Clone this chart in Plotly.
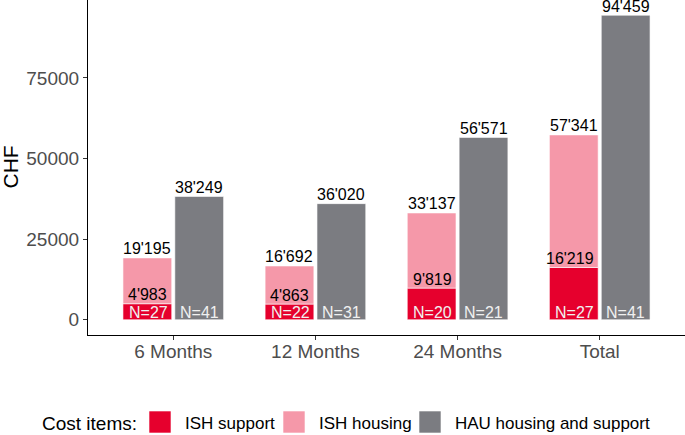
import plotly.graph_objects as go

categories = ["6 Months", "12 Months", "24 Months", "Total"]
ish_support = [4983, 4863, 9819, 16219]
ish_total = [19195, 16692, 33137, 57341]
hau_total = [38249, 36020, 56571, 94459]
n_ish = [27, 22, 20, 27]
n_hau = [41, 31, 21, 41]
legend_names = ["ISH support", "ISH housing", "HAU housing and support"]

RED = "#E6002D"
PINK = "#F598A9"
GRAY = "#7B7C81"
FONT = "Liberation Sans, Arial, sans-serif"
COLORS = [RED, PINK, GRAY]

W, H = 685, 435
ML, MR, MT, MB = 88, 0, 0, 100
PW, PH = W - ML - MR, H - MT - MB


def fmt(v):
    return f"{v:,}".replace(",", "'")


def px_x(p):
    return (p - ML) / PW


def px_y(p):
    return (H - MB - p) / PH


ish_housing = [t - s for t, s in zip(ish_total, ish_support)]
bar_line = dict(color="white", width=0.6)

fig = go.Figure()
fig.add_bar(name=legend_names[0], x=categories, y=ish_support, offsetgroup="ISH",
            marker=dict(color=RED, line=bar_line), showlegend=False)
fig.add_bar(name=legend_names[1], x=categories, y=ish_housing, base=ish_support, offsetgroup="ISH",
            marker=dict(color=PINK, line=bar_line), showlegend=False)
fig.add_bar(name=legend_names[2], x=categories, y=hau_total, offsetgroup="HAU",
            marker=dict(color=GRAY, line=bar_line), showlegend=False)

ann = []
lab_font = dict(size=16, color="black", family=FONT)
n_font = dict(size=16, color="#F0F0F0", family=FONT)
for c, s, t, h, ni, nh in zip(categories, ish_support, ish_total, hau_total, n_ish, n_hau):
    ann.append(dict(x=c, y=t, text=fmt(t), xshift=-26, yanchor="middle", yshift=9, font=lab_font))
    ann.append(dict(x=c, y=s, text=fmt(s), xshift=-4, xanchor="right", yanchor="middle", yshift=9, font=lab_font))
    ann.append(dict(x=c, y=h, text=fmt(h), xshift=26, yanchor="middle", yshift=9, font=lab_font))
    ann.append(dict(x=c, y=0, text=f"N={ni}", xshift=-25, yanchor="middle", yshift=7, font=n_font))
    ann.append(dict(x=c, y=0, text=f"N={nh}", xshift=26, yanchor="middle", yshift=7, font=n_font))
for a in ann:
    a.update(xref="x", yref="y", showarrow=False)

# y-axis title
ann.append(dict(x=px_x(10), y=0.5, xref="paper", yref="paper", text="CHF", textangle=-90,
                showarrow=False, xanchor="center", yanchor="middle",
                font=dict(size=21, color="black", family=FONT)))

# legend (drawn manually to get ggplot-sized keys)
shapes = []
ann.append(dict(x=px_x(40), y=px_y(423), xref="paper", yref="paper", text="Cost items:",
                showarrow=False, xanchor="left", yanchor="middle",
                font=dict(size=19, color="black", family=FONT)))
key_left = [149, 283, 419]
lab_left = [183, 317, 453]
for name, col, kx, lx in zip(legend_names, COLORS, key_left, lab_left):
    shapes.append(dict(type="rect", xref="paper", yref="paper",
                       x0=px_x(kx), x1=px_x(kx + 22), y0=px_y(433), y1=px_y(411),
                       fillcolor=col, line=dict(color="white", width=0.6)))
    ann.append(dict(x=px_x(lx), y=px_y(423), xref="paper", yref="paper", text=name,
                    showarrow=False, xanchor="left", yanchor="middle",
                    font=dict(size=17, color="black", family=FONT)))

fig.update_layout(
    width=W, height=H,
    margin=dict(l=ML, r=MR, t=MT, b=MB, pad=0),
    paper_bgcolor="white", plot_bgcolor="white",
    barmode="group", bargap=0.27, bargroupgap=0.06,
    font=dict(family=FONT, color="black"),
    annotations=ann, shapes=shapes, showlegend=False,
    xaxis=dict(
        range=[-0.6, 3.6], automargin=False,
        showline=True, linecolor="black", linewidth=1.2, ticks="outside", ticklen=4,
        tickcolor="#333333", tickfont=dict(size=19, color="#4D4D4D"), showgrid=False,
        ticklabelstandoff=-5,
    ),
    yaxis=dict(
        range=[-4723, 99182], automargin=False,
        tickvals=[0, 25000, 50000, 75000], ticktext=["0", "25000", "50000", "75000"],
        showline=True, linecolor="black", linewidth=1.2, ticks="outside", ticklen=4,
        tickcolor="#333333", tickfont=dict(size=19, color="#4D4D4D"), showgrid=False,
        zeroline=False,
    ),
)

fig.write_html("out.html", config={"displayModeBar": False},
               post_script="document.body.style.margin='0';document.body.style.overflow='hidden';")
